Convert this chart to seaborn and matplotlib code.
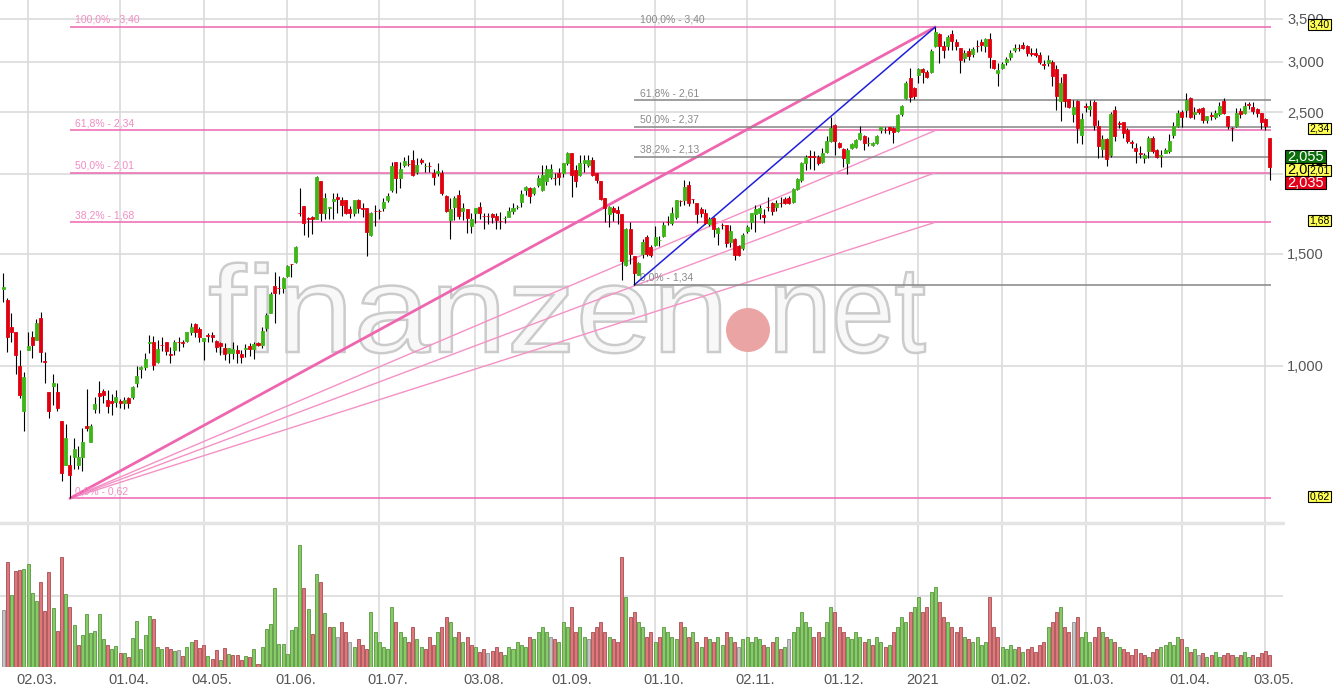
import numpy as np
import pandas as pd
import matplotlib
matplotlib.use("Agg")
import matplotlib.pyplot as plt
import matplotlib.transforms as mtransforms
from matplotlib.patches import Rectangle, Ellipse, PathPatch
from matplotlib.textpath import TextPath
from matplotlib.font_manager import FontProperties
from matplotlib.ticker import NullLocator
import seaborn as sns

# daily candles, Feb 2020 - May 2021 (EUR)
opens = [
    1.32, 1.27, 1.15, 1.13, 1.00, 0.85, 1.06, 1.11, 1.10, 1.19,
    1.02, 0.91, 0.93, 0.91, 0.82, 0.70, 0.70, 0.72, 0.70, 0.72,
    0.805, 0.76, 0.856, 0.907, 0.914, 0.885, 0.880, 0.878, 0.882, 0.875,
    0.891, 0.894, 0.941, 0.99, 0.996, 1.088, 1.09, 1.015, 1.08, 1.09,
    1.046, 1.059, 1.092, 1.089, 1.094, 1.13, 1.164, 1.143, 1.094, 1.12,
    1.12, 1.094, 1.087, 1.067, 1.048, 1.048, 1.059, 1.044, 1.063, 1.075,
    1.063, 1.087, 1.079, 1.147, 1.21, 1.335, 1.327, 1.325, 1.384, 1.447,
    1.455, 1.74, 1.781, 1.707, 1.71, 1.70, 1.95, 1.737, 1.772, 1.814,
    1.84, 1.821, 1.821, 1.762, 1.737, 1.821, 1.769, 1.769, 1.605, 1.752,
    1.752, 1.769, 1.821, 1.888, 2.088, 1.972, 2.066, 2.075, 2.103, 2.015,
    2.103, 2.056, 2.06, 2.008, 2.008, 2.008, 1.847, 1.694, 1.775, 1.855,
    1.75, 1.762, 1.66, 1.737, 1.775, 1.719, 1.719, 1.73, 1.717, 1.689,
    1.704, 1.71, 1.75, 1.774, 1.808, 1.888, 1.90, 1.868, 1.923, 1.888,
    1.95, 1.979, 1.973, 2.008, 2.008, 2.08, 2.157, 2.029, 1.993, 2.08,
    2.066, 2.103, 2.008, 1.95, 1.834, 1.73, 1.769, 1.756, 1.73, 1.44,
    1.64, 1.487, 1.389, 1.498, 1.593, 1.537, 1.548, 1.574, 1.599, 1.682,
    1.676, 1.71, 1.817, 1.821, 1.92, 1.828, 1.801, 1.762, 1.737, 1.67,
    1.705, 1.617, 1.665, 1.664, 1.565, 1.582, 1.543, 1.532, 1.628, 1.68,
    1.73, 1.737, 1.723, 1.777, 1.801, 1.775, 1.803, 1.827, 1.834, 1.808,
    1.895, 1.957, 2.08, 2.132, 2.132, 2.125, 2.088, 2.165, 2.253, 2.387,
    2.237, 2.189, 2.08, 2.197, 2.205, 2.27, 2.296, 2.236, 2.221, 2.237,
    2.344, 2.346, 2.37, 2.362, 2.336, 2.485, 2.63, 2.83, 2.728, 2.864,
    2.92, 2.89, 2.89, 3.17, 3.32, 3.17, 3.17, 3.32, 3.22, 3.15,
    3.04, 3.117, 3.08, 3.177, 3.22, 3.17, 3.26, 3.02, 2.88, 2.93,
    3.0, 3.05, 3.13, 3.152, 3.19, 3.18, 3.092, 3.09, 3.07, 2.972,
    2.99, 3.0, 2.92, 2.60, 2.87, 2.62, 2.48, 2.60, 2.30, 2.552,
    2.53, 2.59, 2.38, 2.19, 2.27, 2.14, 2.52, 2.402, 2.41, 2.34,
    2.242, 2.20, 2.16, 2.12, 2.17, 2.28, 2.18, 2.138, 2.16, 2.17,
    2.30, 2.38, 2.50, 2.52, 2.63, 2.48, 2.53, 2.54, 2.43, 2.472,
    2.46, 2.48, 2.60, 2.47, 2.362, 2.38, 2.51, 2.49, 2.572, 2.55,
    2.53, 2.49, 2.44, 2.28,
]
highs = [
    1.40, 1.28, 1.21, 1.13, 1.06, 0.98, 1.13, 1.135, 1.185, 1.215,
    1.05, 0.91, 0.97, 0.94, 0.82, 0.81, 0.725, 0.77, 0.75, 0.80,
    0.92, 0.81, 0.894, 0.947, 0.92, 0.917, 0.904, 0.917, 0.889, 0.894,
    0.894, 0.93, 1.0, 1.0, 1.048, 1.12, 1.114, 1.098, 1.11, 1.09,
    1.07, 1.098, 1.11, 1.10, 1.13, 1.168, 1.168, 1.15, 1.106, 1.127,
    1.13, 1.10, 1.09, 1.087, 1.066, 1.09, 1.079, 1.059, 1.083, 1.087,
    1.09, 1.09, 1.151, 1.21, 1.306, 1.404, 1.384, 1.379, 1.44, 1.447,
    1.54, 1.90, 1.781, 1.71, 1.72, 1.985, 1.95, 1.87, 1.775, 1.87,
    1.87, 1.84, 1.82, 1.78, 1.821, 1.83, 1.80, 1.77, 1.743, 1.79,
    1.765, 1.834, 1.87, 2.088, 2.09, 2.088, 2.125, 2.14, 2.18, 2.118,
    2.118, 2.08, 2.088, 2.036, 2.08, 2.03, 1.855, 1.834, 1.847, 1.89,
    1.80, 1.762, 1.737, 1.77, 1.808, 1.74, 1.74, 1.737, 1.737, 1.743,
    1.717, 1.775, 1.80, 1.79, 1.888, 1.915, 1.908, 1.908, 1.993, 2.066,
    2.066, 2.073, 2.008, 2.044, 2.08, 2.165, 2.16, 2.066, 2.14, 2.14,
    2.14, 2.13, 2.01, 1.95, 1.834, 1.78, 1.78, 1.78, 1.73, 1.647,
    1.68, 1.49, 1.455, 1.582, 1.605, 1.548, 1.66, 1.60, 1.68, 1.72,
    1.775, 1.82, 1.82, 1.957, 1.95, 1.83, 1.801, 1.775, 1.762, 1.71,
    1.71, 1.65, 1.676, 1.664, 1.664, 1.587, 1.548, 1.617, 1.664, 1.737,
    1.785, 1.788, 1.762, 1.84, 1.808, 1.82, 1.84, 1.84, 1.847, 1.90,
    1.97, 2.088, 2.14, 2.18, 2.17, 2.14, 2.20, 2.296, 2.455, 2.396,
    2.245, 2.197, 2.197, 2.237, 2.27, 2.38, 2.304, 2.287, 2.245, 2.304,
    2.37, 2.37, 2.37, 2.37, 2.48, 2.566, 2.80, 2.93, 2.738, 2.93,
    2.93, 2.91, 3.14, 3.40, 3.33, 3.23, 3.30, 3.36, 3.25, 3.15,
    3.13, 3.15, 3.16, 3.24, 3.25, 3.27, 3.33, 3.02, 2.99, 3.0,
    3.05, 3.13, 3.20, 3.20, 3.22, 3.19, 3.15, 3.15, 3.11, 3.02,
    3.07, 3.02, 2.96, 2.84, 2.87, 2.62, 2.61, 2.61, 2.49, 2.58,
    2.61, 2.61, 2.43, 2.30, 2.28, 2.50, 2.56, 2.42, 2.41, 2.36,
    2.26, 2.24, 2.21, 2.16, 2.29, 2.29, 2.19, 2.18, 2.20, 2.31,
    2.41, 2.52, 2.52, 2.68, 2.64, 2.55, 2.54, 2.55, 2.47, 2.50,
    2.52, 2.59, 2.63, 2.47, 2.37, 2.54, 2.54, 2.59, 2.59, 2.59,
    2.54, 2.49, 2.45, 2.28,
]
lows = [
    1.26, 1.05, 1.09, 0.97, 0.89, 0.79, 1.06, 1.03, 1.10, 1.015,
    0.94, 0.83, 0.87, 0.85, 0.66, 0.70, 0.62, 0.69, 0.69, 0.685,
    0.79, 0.76, 0.844, 0.844, 0.875, 0.844, 0.838, 0.862, 0.860, 0.856,
    0.86, 0.888, 0.927, 0.958, 0.986, 1.048, 0.986, 1.01, 1.056, 1.04,
    1.01, 1.04, 1.056, 1.07, 1.09, 1.118, 1.11, 1.09, 1.022, 1.09,
    1.09, 1.052, 1.04, 1.022, 1.01, 1.025, 1.01, 1.01, 1.033, 1.037,
    1.025, 1.075, 1.067, 1.134, 1.21, 1.168, 1.297, 1.301, 1.379, 1.379,
    1.45, 1.72, 1.605, 1.595, 1.61, 1.70, 1.69, 1.70, 1.70, 1.70,
    1.737, 1.72, 1.73, 1.705, 1.72, 1.737, 1.71, 1.487, 1.60, 1.66,
    1.70, 1.75, 1.81, 1.875, 1.87, 1.90, 2.05, 2.06, 1.986, 2.0,
    2.07, 2.015, 2.015, 1.92, 1.986, 1.855, 1.743, 1.58, 1.694, 1.70,
    1.694, 1.617, 1.617, 1.676, 1.70, 1.64, 1.67, 1.676, 1.64, 1.64,
    1.676, 1.71, 1.73, 1.76, 1.775, 1.855, 1.80, 1.855, 1.908, 1.88,
    1.92, 1.965, 1.923, 1.923, 1.979, 2.066, 1.84, 1.908, 1.986, 2.015,
    2.05, 1.986, 1.935, 1.82, 1.68, 1.65, 1.69, 1.668, 1.364, 1.435,
    1.445, 1.34, 1.389, 1.476, 1.487, 1.482, 1.543, 1.543, 1.593, 1.664,
    1.664, 1.70, 1.78, 1.788, 1.78, 1.80, 1.676, 1.71, 1.67, 1.66,
    1.595, 1.548, 1.64, 1.537, 1.537, 1.466, 1.487, 1.52, 1.617, 1.64,
    1.622, 1.70, 1.676, 1.75, 1.725, 1.75, 1.775, 1.795, 1.795, 1.80,
    1.888, 1.945, 2.029, 2.036, 2.03, 2.066, 2.08, 2.157, 2.245, 2.14,
    2.197, 2.05, 2.0, 2.189, 2.197, 2.261, 2.181, 2.213, 2.213, 2.229,
    2.32, 2.32, 2.313, 2.237, 2.33, 2.466, 2.62, 2.594, 2.62, 2.778,
    2.78, 2.83, 2.88, 3.16, 2.99, 3.04, 3.13, 3.13, 3.13, 2.88,
    3.0, 3.02, 3.05, 3.11, 3.12, 3.11, 2.93, 2.92, 2.75, 2.92,
    2.96, 3.02, 3.11, 3.12, 3.14, 3.06, 3.06, 3.05, 2.98, 2.92,
    2.95, 2.75, 2.52, 2.42, 2.55, 2.54, 2.41, 2.24, 2.23, 2.50,
    2.47, 2.34, 2.12, 2.13, 2.06, 2.13, 2.25, 2.36, 2.28, 2.24,
    2.20, 2.08, 2.12, 2.08, 2.12, 2.16, 2.12, 2.05, 2.16, 2.16,
    2.28, 2.37, 2.37, 2.46, 2.45, 2.44, 2.48, 2.40, 2.40, 2.43,
    2.44, 2.47, 2.48, 2.35, 2.25, 2.37, 2.45, 2.48, 2.53, 2.48,
    2.46, 2.35, 2.34, 1.96,
]
closes = [
    1.33, 1.11, 1.13, 1.04, 0.90, 0.96, 1.075, 1.08, 1.17, 1.05,
    1.015, 0.85, 0.94, 0.86, 0.68, 0.77, 0.675, 0.74, 0.72, 0.76,
    0.80, 0.805, 0.872, 0.897, 0.901, 0.866, 0.876, 0.894, 0.875, 0.885,
    0.875, 0.927, 0.964, 0.996, 1.025, 1.092, 1.004, 1.063, 1.077, 1.056,
    1.042, 1.09, 1.09, 1.085, 1.13, 1.151, 1.13, 1.11, 1.106, 1.116,
    1.112, 1.071, 1.075, 1.044, 1.066, 1.063, 1.048, 1.033, 1.067, 1.065,
    1.083, 1.079, 1.134, 1.202, 1.297, 1.301, 1.323, 1.374, 1.435, 1.443,
    1.537, 1.735, 1.676, 1.703, 1.70, 1.979, 1.737, 1.834, 1.776, 1.827,
    1.827, 1.788, 1.737, 1.737, 1.821, 1.769, 1.762, 1.622, 1.737, 1.748,
    1.749, 1.808, 1.847, 2.058, 1.972, 2.036, 2.095, 2.071, 1.993, 2.066,
    2.088, 2.06, 2.056, 1.979, 2.022, 1.868, 1.75, 1.762, 1.834, 1.717,
    1.769, 1.705, 1.70, 1.769, 1.737, 1.716, 1.716, 1.71, 1.694, 1.687,
    1.706, 1.75, 1.769, 1.777, 1.862, 1.908, 1.847, 1.90, 1.972, 1.993,
    2.036, 2.036, 1.971, 1.979, 2.08, 2.157, 1.993, 1.95, 2.08, 2.103,
    2.103, 1.993, 1.957, 1.827, 1.769, 1.775, 1.743, 1.737, 1.46, 1.64,
    1.50, 1.40, 1.45, 1.565, 1.498, 1.493, 1.593, 1.578, 1.664, 1.679,
    1.737, 1.82, 1.813, 1.908, 1.801, 1.825, 1.73, 1.737, 1.676, 1.70,
    1.64, 1.646, 1.662, 1.56, 1.628, 1.493, 1.493, 1.605, 1.652, 1.737,
    1.762, 1.769, 1.71, 1.774, 1.75, 1.801, 1.80, 1.801, 1.801, 1.895,
    1.965, 2.08, 2.125, 2.128, 2.125, 2.08, 2.157, 2.253, 2.36, 2.253,
    2.205, 2.118, 2.181, 2.229, 2.261, 2.32, 2.237, 2.238, 2.237, 2.296,
    2.37, 2.342, 2.344, 2.328, 2.475, 2.557, 2.778, 2.64, 2.65, 2.92,
    2.89, 2.84, 3.117, 3.34, 3.18, 3.13, 3.28, 3.23, 3.17, 3.02,
    3.10, 3.06, 3.14, 3.172, 3.19, 3.25, 3.05, 2.93, 2.91, 2.98,
    3.03, 3.10, 3.15, 3.148, 3.15, 3.09, 3.088, 3.07, 3.0, 2.968,
    3.02, 2.85, 2.65, 2.78, 2.60, 2.55, 2.55, 2.36, 2.44, 2.548,
    2.56, 2.39, 2.21, 2.27, 2.11, 2.48, 2.29, 2.398, 2.32, 2.25,
    2.238, 2.17, 2.15, 2.14, 2.28, 2.17, 2.13, 2.142, 2.18, 2.25,
    2.38, 2.49, 2.46, 2.61, 2.46, 2.50, 2.50, 2.43, 2.47, 2.468,
    2.49, 2.56, 2.49, 2.38, 2.358, 2.49, 2.48, 2.56, 2.568, 2.51,
    2.49, 2.41, 2.38, 2.05,
]
# volume (relative units, no scale shown in the chart)
volume = [
    57, 105, 72, 96, 97, 98, 103, 74, 66, 85,
    56, 95, 59, 36, 110, 73, 60, 42, 22, 32,
    53, 34, 36, 53, 28, 22, 18, 21, 14, 14,
    10, 29, 46, 18, 32, 51, 48, 20, 18, 20,
    18, 16, 17, 11, 20, 25, 27, 19, 22, 11,
    8, 17, 7, 19, 13, 12, 12, 7, 11, 10,
    18, 3, 20, 38, 43, 79, 23, 23, 13, 37,
    40, 122, 79, 58, 33, 93, 85, 54, 40, 40,
    30, 45, 35, 25, 20, 28, 22, 18, 55, 35,
    25, 20, 18, 60, 45, 35, 30, 25, 40, 28,
    20, 18, 30, 22, 35, 40, 50, 45, 30, 35,
    25, 30, 22, 20, 15, 18, 14, 16, 20, 15,
    12, 20, 18, 25, 22, 20, 30, 28, 35, 40,
    35, 30, 28, 25, 45, 40, 60, 35, 40, 30,
    28, 35, 40, 45, 35, 30, 28, 25, 110, 70,
    50, 55, 45, 40, 30, 35, 25, 30, 40, 35,
    30, 28, 45, 40, 30, 35, 25, 20, 30, 28,
    25, 30, 22, 35, 30, 25, 20, 28, 30, 25,
    30, 28, 22, 20, 25, 30, 18, 20, 28, 35,
    40, 55, 45, 40, 30, 35, 30, 45, 60, 55,
    40, 35, 30, 28, 35, 30, 25, 28, 22, 30,
    25, 20, 22, 35, 40, 50, 45, 55, 60, 70,
    55, 60, 75, 80, 65, 50, 45, 40, 35, 40,
    30, 28, 25, 30, 22, 25, 70, 40, 30, 20,
    18, 22, 18, 20, 15, 18, 20, 15, 22, 25,
    40, 45, 55, 60, 40, 35, 45, 50, 30, 35,
    25, 30, 40, 35, 30, 28, 25, 20, 18, 15,
    12, 18, 14, 12, 10, 15, 18, 20, 22, 25,
    22, 30, 28, 20, 15, 18, 12, 14, 10, 12,
    15, 10, 12, 14, 12, 10, 12, 15, 10, 12,
    10, 14, 16, 12,
]

tick_pos = [6, 28, 48, 68, 90, 113, 134, 156, 178, 199, 219, 239, 259, 282, 302]
tick_labels = ["02.03.", "01.04.", "04.05.", "01.06.", "01.07.", "03.08.", "01.09.",
               "01.10.", "02.11.", "01.12.", "2021", "01.02.", "01.03.", "01.04.", "03.05."]
price_ticks = [1.0, 1.5, 2.0, 2.5, 3.0, 3.5]
price_tick_labels = ["1,000", "1,500", "2,000", "2,500", "3,000", "3,500"]

# fibonacci retracement 1 (pink) from the March low to the January high
fib1_start, fib1_end = 16, 223
fib1_levels = [0.62, 1.68, 2.01, 2.34, 3.40]
fib1_labels = ["0,0% - 0,62", "38,2% - 1,68", "50,0% - 2,01", "61,8% - 2,34", "100,0% - 3,40"]
fib1_boxes = ["0,62", "1,68", "2,01", "2,34", "3,40"]
# fibonacci retracement 2 (grey) from the September low
fib2_start, fib2_end = 151, 223
fib2_levels = [1.34, 2.13, 2.37, 2.61, 3.40]
fib2_labels = ["0,0% - 1,34", "38,2% - 2,13", "50,0% - 2,37", "61,8% - 2,61", "100,0% - 3,40"]

quote_labels = ["2,055", "2,045", "2,035"]

sns.set_theme(style="white")
plt.rcParams["font.family"] = ["Liberation Sans", "DejaVu Sans"]

df = pd.DataFrame({"open": opens, "high": highs, "low": lows, "close": closes, "volume": volume})
df["idx"] = np.arange(len(df))
chg = df["close"].diff().fillna(0)
df["vcol"] = np.where(chg > 0, "up", np.where(chg < 0, "down", "flat"))

W, H = 1337, 691
fig = plt.figure(figsize=(W / 100, H / 100), dpi=100)
axp = fig.add_axes([0, 169 / H, 1283 / W, 522 / H])
axv = fig.add_axes([0, 24 / H, 1283 / W, 144 / H], sharex=axp)

GRID = "#dadada"
GREEN, RED = "#3fb618", "#e1000f"
PINK, PINK_FAN, PINK_TXT = "#ee66b0", "#f591c6", "#f38cc3"
GREY_LINE, GREY_TXT = "#858585", "#8a8a8a"

# price panel
axp.set_yscale("log")
axp.set_ylim(0.5694, 3.748)
axp.set_xlim(-0.72, 306.2)

lo = df[["low", "open", "close"]].min(axis=1)
hi = df[["high", "open", "close"]].max(axis=1)
axp.vlines(df["idx"], lo, hi, color="black", lw=0.8, zorder=4)
b_lo = df[["open", "close"]].min(axis=1)
b_hi = df[["open", "close"]].max(axis=1)
ccol = np.where(df["close"] >= df["open"], GREEN, RED)
axp.bar(df["idx"], b_hi - b_lo, bottom=b_lo, width=0.72, color=ccol,
        edgecolor=ccol, linewidth=0.6, zorder=5)

end = len(df) - 0.7
axp.hlines(fib1_levels, fib1_start, end, color=PINK, lw=1.1, zorder=2)
for lvl in fib1_levels[1:]:
    top = lvl == fib1_levels[-1]
    axp.plot([fib1_start, fib1_end], [fib1_levels[0], lvl],
             color=PINK if top else PINK_FAN, lw=2.0 if top else 1.0, zorder=2)
axp.hlines(fib2_levels[:-1], fib2_start, end, color=GREY_LINE, lw=1.1, zorder=2)
axp.plot([fib2_start, fib2_end], [fib2_levels[0], fib2_levels[-1]], color="#1f1fe0", lw=1.1, zorder=3)

for lvl, lab in zip(fib1_levels, fib1_labels):
    axp.annotate(lab, (fib1_start, lvl), xytext=(4, 1.5), textcoords="offset points",
                 fontsize=7.5, color=PINK_TXT, va="bottom", zorder=2.5)
for lvl, lab in zip(fib2_levels, fib2_labels):
    axp.annotate(lab, (fib2_start, lvl), xytext=(4, 1.5), textcoords="offset points",
                 fontsize=7.5, color=GREY_TXT, va="bottom", zorder=2.5)

# watermark, outlined letters fitted into their boxes (pixels)
fp = FontProperties(family="Liberation Sans")
for word, x0, x1 in [("finanzen", 210, 720), ("net", 776, 925)]:
    tp = TextPath((0, 0), word, size=100, prop=fp)
    bb = tp.get_extents()
    sx = (x1 - x0) / bb.width
    sy = 90 / 72.9
    tr = mtransforms.Affine2D().translate(-bb.x0, 0).scale(sx, sy).translate(x0, H - 352)
    axp.add_patch(PathPatch(tp, transform=tr, facecolor="#f8f8f8", edgecolor="#cbcbcb",
                            lw=1.8, zorder=1, clip_on=False))
axp.add_patch(Ellipse((748 / W, 1 - 330 / H), 44 / W, 44 / H, transform=fig.transFigure,
                      facecolor="#eba4a4", edgecolor="none", zorder=1.2))

axp.yaxis.tick_right()
axp.set_yticks(price_ticks)
axp.set_yticklabels(price_tick_labels, fontsize=10.5, color="#555555")
axp.yaxis.set_minor_locator(NullLocator())
axp.tick_params(axis="y", length=0, pad=3)
axp.tick_params(axis="x", length=0, labelbottom=False)
axp.grid(True, color=GRID, lw=1.2)
axp.set_axisbelow(True)

# volume panel
pal = {"up": "#86cc66", "down": "#e0777b", "flat": "#c4c4c4"}
sns.barplot(data=df, x="idx", y="volume", hue="vcol", palette=pal, native_scale=True,
            width=0.72, errorbar=None, legend=False, saturation=1, ax=axv, zorder=3)
for p in axv.patches:
    fc = np.array(p.get_facecolor())
    p.set_edgecolor(tuple(fc[:3] * 0.78) + (1.0,))
    p.set_linewidth(0.7)
axv.set_ylim(0, 144)
axv.set_yticks([71])
axv.set_xticks(tick_pos)
axv.set_xticklabels(tick_labels, fontsize=10.5, color="#555555")
axv.tick_params(axis="x", length=0, pad=4)
axv.tick_params(axis="y", length=0, labelleft=False)
axv.set_xlabel("")
axv.set_ylabel("")
axv.grid(True, color=GRID, lw=1.2)
axv.set_axisbelow(True)
axv.axhline(144, color="#e4e4e4", lw=2.5, clip_on=False, zorder=1)
axv.set_xlim(-0.72, 306.2)
# date labels start a little left of their grid line
shift = mtransforms.ScaledTranslation(-12 / 100, 0, fig.dpi_scale_trans)
for lab in axv.get_xticklabels():
    lab.set_horizontalalignment("left")
    lab.set_transform(lab.get_transform() + shift)

for ax in (axp, axv):
    for s in ax.spines.values():
        s.set_visible(False)

# yellow level boxes on the right
fig_h = fig.bbox.height
for lvl, lab in zip(fib1_levels, fib1_boxes):
    yc = axp.transData.transform((0, lvl))[1] / fig_h + 2 / H
    fig.add_artist(Rectangle((1308 / W, yc - 5.5 / H), 23 / W, 11 / H, transform=fig.transFigure,
                             facecolor="#ffff55", edgecolor="black", lw=0.8, zorder=7))
    fig.text(1319.5 / W, yc, lab, ha="center", va="center", fontsize=7.5, color="black", zorder=8)

# quote boxes
qstyle = [("#0b6e0b", "white"), ("#ffff55", "black"), ("#e2001a", "white")]
for k, (lab, (bg, fg)) in enumerate(zip(quote_labels, qstyle)):
    top = 150 + 13 * k
    fig.add_artist(Rectangle((1285 / W, 1 - (top + 13) / H), 41 / W, 13 / H, transform=fig.transFigure,
                             facecolor=bg, edgecolor="black", lw=0.8, zorder=5))
    fig.text(1305.5 / W, 1 - (top + 6.8) / H, lab, ha="center", va="center",
             fontsize=10.5, color=fg, zorder=6)

fig.savefig("out.png", dpi=100, facecolor="white")
